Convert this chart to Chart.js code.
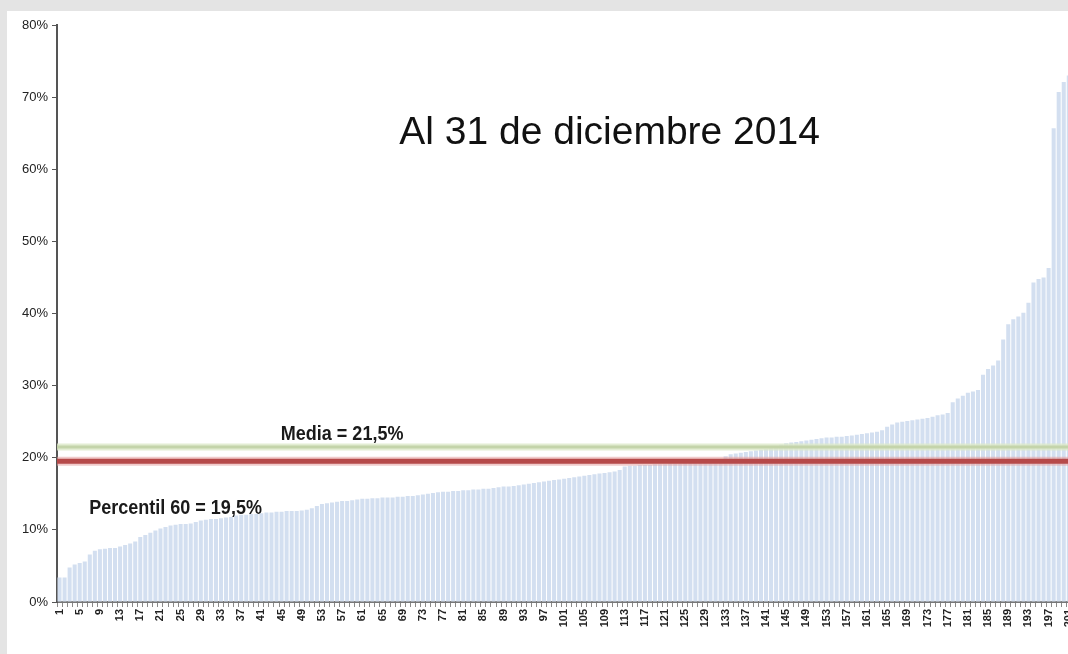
<!DOCTYPE html>
<html>
<head>
<meta charset="utf-8">
<script src="https://cdn.jsdelivr.net/npm/chart.js@4/dist/chart.umd.min.js"></script>
<style>
  html, body { margin: 0; padding: 0; }
  body { width: 1068px; height: 654px; overflow: hidden; background: #e4e4e4; position: relative; }
  #panel { position: absolute; left: 7px; top: 11px; right: 0; bottom: 0; background: #fff; }
  #wrap { position: absolute; left: 0; top: 0; width: 1084px; height: 654px; }
</style>
</head>
<body>
<div id="panel"></div>
<div id="wrap"><canvas id="chart"></canvas></div>
<script>
// entidades ordenadas de menor a mayor (%)
const categories = Array.from({ length: 201 }, (_, i) => String(i + 1));
const tickStep = 4;
const values = [
  3.4, 3.4, 4.8, 5.2, 5.4, 5.6, 6.6, 7.1, 7.3, 7.4,
  7.5, 7.5, 7.7, 7.9, 8.1, 8.4, 9.0, 9.3, 9.6, 9.9,
  10.2, 10.4, 10.6, 10.7, 10.8, 10.8, 10.9, 11.1, 11.3, 11.4,
  11.5, 11.5, 11.6, 11.7, 11.8, 12.0, 12.1, 12.1, 12.2, 12.2,
  12.3, 12.4, 12.4, 12.5, 12.5, 12.6, 12.6, 12.6, 12.7, 12.8,
  13.0, 13.3, 13.6, 13.7, 13.8, 13.9, 14.0, 14.0, 14.1, 14.2,
  14.3, 14.3, 14.4, 14.4, 14.5, 14.5, 14.5, 14.6, 14.6, 14.7,
  14.7, 14.8, 14.9, 15.0, 15.1, 15.2, 15.3, 15.3, 15.4, 15.4,
  15.5, 15.5, 15.6, 15.6, 15.7, 15.7, 15.8, 15.9, 16.0, 16.0,
  16.1, 16.2, 16.3, 16.4, 16.5, 16.6, 16.7, 16.8, 16.9, 17.0,
  17.1, 17.2, 17.3, 17.4, 17.5, 17.6, 17.7, 17.8, 17.9, 18.0,
  18.1, 18.3, 18.8, 18.9, 18.9, 19.0, 19.0, 19.0, 19.1, 19.1,
  19.1, 19.2, 19.2, 19.2, 19.3, 19.3, 19.3, 19.4, 19.4, 19.5,
  19.6, 19.8, 20.2, 20.5, 20.6, 20.7, 20.8, 20.9, 21.0, 21.1,
  21.2, 21.3, 21.5, 21.8, 22.0, 22.1, 22.2, 22.3, 22.4, 22.5,
  22.6, 22.7, 22.8, 22.8, 22.9, 22.9, 23.0, 23.1, 23.2, 23.3,
  23.4, 23.5, 23.6, 23.8, 24.3, 24.6, 24.9, 25.0, 25.1, 25.2,
  25.3, 25.4, 25.5, 25.7, 25.9, 26.0, 26.2, 27.7, 28.2, 28.6,
  29.0, 29.2, 29.4, 31.5, 32.3, 32.8, 33.5, 36.4, 38.5, 39.2,
  39.6, 40.1, 41.5, 44.3, 44.8, 45.0, 46.3, 65.7, 70.7, 72.1, 73.0,
];
const media = 21.5;
const percentil60 = 19.5;
const yTicks = [0, 10, 20, 30, 40, 50, 60, 70, 80];

const sans = "'Liberation Sans', Arial, sans-serif";

// texto estrecho tipo Arial Narrow: se comprime en horizontal
const narrowText = (ctx, text, x, y, squeeze) => {
  ctx.save();
  ctx.translate(x, y);
  ctx.scale(squeeze, 1);
  ctx.fillText(text, 0, 0);
  ctx.restore();
};

const refLines = {
  id: 'refLines',
  afterDatasetsDraw(chart) {
    const { ctx, chartArea: { left, right }, scales: { x, y } } = chart;
    const hline = (val, halo, haloW, core, coreW) => {
      const py = y.getPixelForValue(val);
      ctx.save();
      ctx.lineCap = 'butt';
      ctx.strokeStyle = halo;
      ctx.lineWidth = haloW;
      ctx.beginPath(); ctx.moveTo(left, py); ctx.lineTo(right, py); ctx.stroke();
      ctx.strokeStyle = core;
      ctx.lineWidth = coreW;
      ctx.beginPath(); ctx.moveTo(left, py); ctx.lineTo(right, py); ctx.stroke();
      ctx.restore();
    };
    hline(media, 'rgba(220,232,200,0.8)', 7, '#c4d4aa', 3);
    hline(percentil60, 'rgba(230,160,160,0.55)', 9, '#b64a4a', 5);

    ctx.save();
    ctx.fillStyle = '#1a1a1a';
    ctx.font = 'bold 20px ' + sans;
    ctx.textAlign = 'center';
    ctx.textBaseline = 'bottom';
    narrowText(ctx, 'Media = 21,5%', x.getPixelForValue(56), y.getPixelForValue(media) - 2, 0.9);
    ctx.textBaseline = 'middle';
    narrowText(ctx, 'Percentil 60 = 19,5%', x.getPixelForValue(23), y.getPixelForValue(13.0), 0.9);
    ctx.font = '39px ' + sans;
    ctx.fillStyle = '#111';
    ctx.fillText('Al 31 de diciembre 2014', x.getPixelForValue(109), y.getPixelForValue(65.0));
    ctx.restore();
  },
};

new Chart(document.getElementById('chart'), {
  type: 'bar',
  data: {
    labels: categories,
    datasets: [{
      data: values,
      backgroundColor: '#d3dff0',
      borderWidth: 0,
      barPercentage: 0.8,
      categoryPercentage: 1,
    }],
  },
  options: {
    responsive: true,
    maintainAspectRatio: false,
    animation: false,
    layout: { padding: { top: 25, left: 0, right: 0, bottom: 0 } },
    plugins: { legend: { display: false }, tooltip: { enabled: false } },
    scales: {
      x: {
        grid: { drawOnChartArea: false, drawTicks: true, tickLength: 5, color: '#8a8a8a' },
        border: { display: true, color: '#777', width: 2 },
        ticks: {
          autoSkip: false,
          minRotation: 90,
          maxRotation: 90,
          padding: 2,
          color: '#222',
          font: { size: 11, weight: 'bold', family: sans },
          callback: (v, i) => (i % tickStep === 0 ? categories[i] : ''),
        },
        afterFit: (s) => { s.height = 52; },
      },
      y: {
        min: 0,
        max: 80,
        afterBuildTicks: (s) => { s.ticks = yTicks.map((v) => ({ value: v })); },
        grid: { drawOnChartArea: false, drawTicks: true, tickLength: 5, color: '#555' },
        border: { display: true, color: '#555', width: 2 },
        ticks: {
          padding: 4,
          color: '#222',
          font: { size: 13, family: sans },
          callback: (v) => v + '%',
        },
        afterFit: (s) => { s.width = 57; },
      },
    },
  },
  plugins: [refLines],
});
</script>
</body>
</html>
